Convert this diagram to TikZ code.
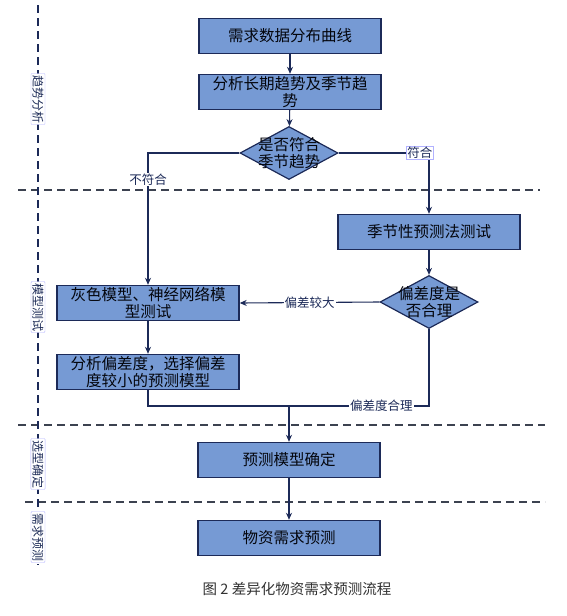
\documentclass[tikz,border=0pt]{standalone}
\usepackage{fontspec}
\setmainfont{Noto Sans CJK SC}
\usetikzlibrary{arrows.meta,positioning,shapes.geometric,calc}
\definecolor{boxblue}{RGB}{118,154,212}
\definecolor{navy}{RGB}{28,42,88}
\definecolor{sepgray}{RGB}{60,66,80}
\definecolor{capgray}{RGB}{50,50,50}

\begin{document}
\begin{tikzpicture}[x=1pt, y=-1pt,
  box/.style={rectangle, draw=navy, fill=boxblue, line width=1.4pt,
              minimum width=182pt, minimum height=35pt, align=center,
              inner sep=1pt, font=\fontsize{15.5}{17}\selectfont, text=black!85!navy},
  dia/.style={diamond, draw=navy, fill=boxblue, line width=1.2pt,
              minimum width=98pt, minimum height=53pt, inner sep=0pt},
  diatext/.style={align=center, font=\fontsize{15.5}{16.5}\selectfont,
                  inner sep=0pt, text=black!85!navy},
  lab/.style={fill=white, font=\fontsize{12.5}{13}\selectfont, text=navy, inner sep=1pt},
  sidelab/.style={draw=blue!30, rounded corners=1pt, fill=white,
                  font=\fontsize{12}{13}\selectfont, text=navy, inner sep=1.5pt, rotate=-90},
  sep/.style={dash pattern=on 8pt off 5pt, line width=1.3pt, draw=sepgray},
  ln/.style={line width=1.1pt, draw=navy},
  >={Stealth[length=7pt, width=6pt]}
]
  \useasboundingbox (0,0) rectangle (567,616);

  % phase separators
  \draw[sep] (18,190) -- (540,190);
  \draw[sep] (18,425) -- (545,425);
  \draw[sep] (25,502) -- (545,502);
  \draw[sep, draw=navy] (38,5) -- (38,565);
  \node[sidelab] (ph1) at (38,99)  {趋势分析};
  \node[sidelab] (ph2) at (38,307) {模型测试};
  \node[sidelab] (ph3) at (38,464) {选型确定};
  \node[sidelab] (ph4) at (38,537) {需求预测};

  % flow
  \node[box] (need)   at (290,36)  {需求数据分布曲线};
  \node[box] (trend)  at (290,92)  {分析长期趋势及季节趋\\势};
  \node[dia] (fit)    at (289,153) {};
  \node[diatext] (fitt) at (fit)   {是否符合\\季节趋势};
  \node[box] (season) at (429,232) {季节性预测法测试};
  \node[dia] (dev)    at (429,302) {};
  \node[diatext] (devt) at (dev)   {偏差度是\\否合理};
  \node[box] (grey)   at (148,303) {灰色模型、神经网络模\\型测试};
  \node[box] (pick)   at (148,372) {分析偏差度，选择偏差\\度较小的预测模型};
  \node[box] (sure)   at (289,460) {预测模型确定};
  \node[box] (fcst)   at (289,538) {物资需求预测};
  \coordinate (join) at (289,406);

  \draw[ln,->] (need) -- (trend);
  \draw[ln,->] (trend) -- (fit);
  \draw[ln,->] (fit.west) -| node[lab, pos=0.6]{不符合} (grey.north);
  \draw[ln,->] (fit.east) -| node[lab, draw=blue!30, pos=0.45]{符合} (season.north);
  \draw[ln,->] (season) -- (dev);
  \draw[ln,->] (dev.west) -- node[lab]{偏差较大} (grey.east);
  \draw[ln,->] (grey) -- (pick);
  \draw[ln] (pick.south) |- (join);
  \draw[ln] (dev.south) |- node[lab, pos=0.67]{偏差度合理} (join);
  \draw[ln,->] (join) -- (sure);
  \draw[ln,->] (sure) -- (fcst);

  \node[font=\fontsize{14.5}{16}\selectfont, text=capgray] (cap) at (297,589)
    {图 2 差异化物资需求预测流程};
\end{tikzpicture}
\end{document}
